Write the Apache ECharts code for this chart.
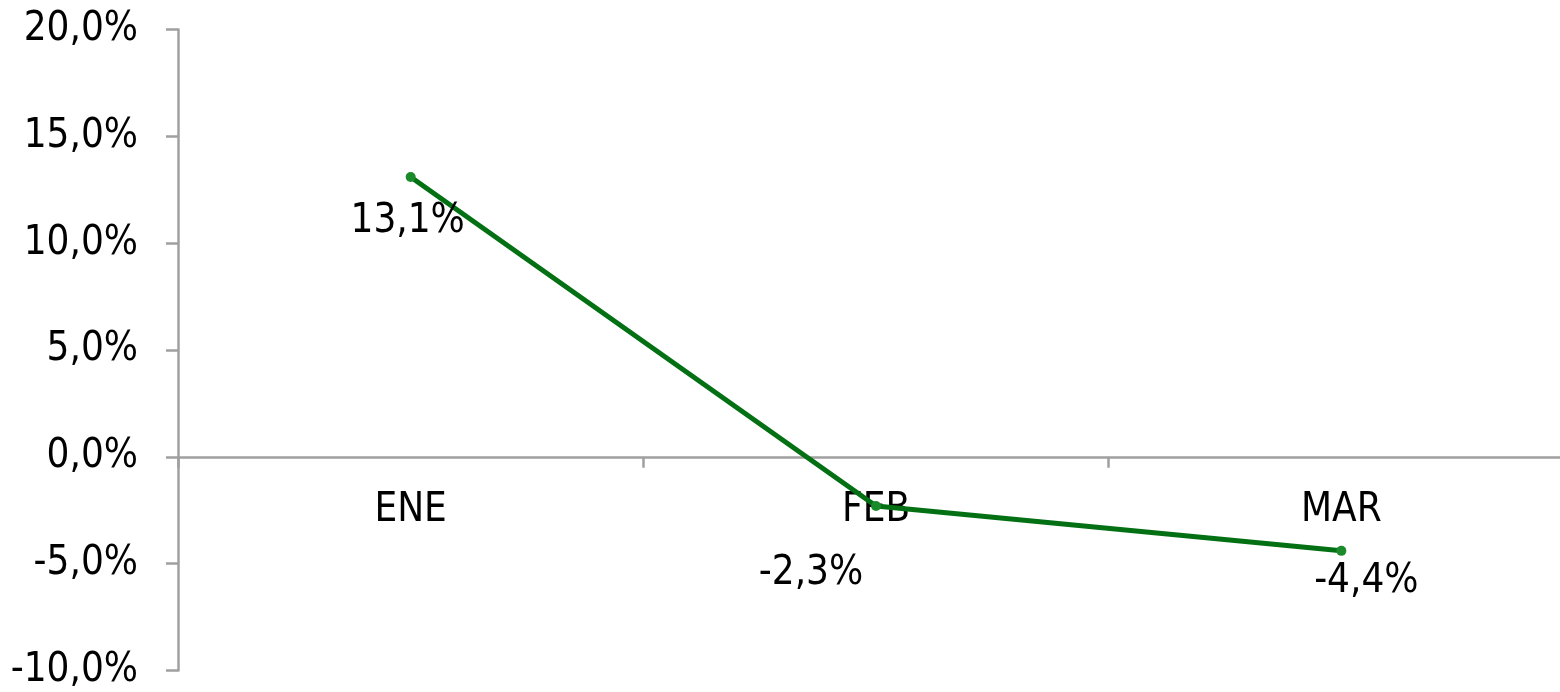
<!DOCTYPE html>
<html>
<head>
<meta charset="utf-8">
<script src="https://cdn.jsdelivr.net/npm/echarts@6/dist/echarts.min.js"></script>
<style>
html,body{margin:0;padding:0;background:#fff;}
#chart{width:1560px;height:692px;}
</style>
</head>
<body>
<div id="chart"></div>
<script>
const categories = ['ENE', 'FEB', 'MAR'];
const values = [13.1, -2.3, -4.4];
const yMin = -10, yMax = 20, yStep = 5;

const FONT = "'DejaVu Sans Condensed', 'DejaVu Sans', Verdana, sans-serif";
const FS = 40;
const labelOffsets = [[-3, 45], [-65, 68], [25, 31]];
const fmt = v => v.toFixed(1).replace('.', ',') + '%';

const chart = echarts.init(document.getElementById('chart'));
const option = {
  animation: false,
  backgroundColor: '#ffffff',
  grid: { left: 178, right: -14, top: 29.5, bottom: 21.5, containLabel: false, outerBoundsMode: 'none' },
  xAxis: {
    type: 'category',
    data: categories,
    boundaryGap: true,
    offset: 0,
    axisLine: { onZero: false, lineStyle: { color: '#a0a0a0', width: 2.5 } },
    axisTick: { show: true, length: 11, lineStyle: { color: '#a0a0a0', width: 2.5 } },
    axisLabel: { margin: 34, color: '#000', fontSize: FS, fontFamily: FONT },
    splitLine: { show: false }
  },
  yAxis: {
    type: 'value',
    min: yMin, max: yMax, interval: yStep,
    axisLine: { show: true, lineStyle: { color: '#a0a0a0', width: 2.5 } },
    axisTick: { show: true, length: 12, lineStyle: { color: '#a0a0a0', width: 2.5 } },
    axisLabel: { margin: 40, color: '#000', fontSize: FS, fontFamily: FONT, formatter: v => fmt(v) },
    splitLine: { show: false }
  },
  series: [{
    type: 'line',
    data: values.map((v, i) => ({
      value: v,
      label: { offset: labelOffsets[i] }
    })),
    symbol: 'circle',
    symbolSize: 10,
    lineStyle: { color: '#037013', width: 5 },
    itemStyle: { color: '#1a8a2a' },
    label: {
      show: true,
      position: 'inside',
      align: 'center',
      verticalAlign: 'middle',
      color: '#000',
      fontSize: FS,
      fontFamily: FONT,
      formatter: p => fmt(p.value)
    },
    z: 3
  }]
};
chart.setOption(option);
// move the category axis onto the zero line of the value scale
const zeroY = chart.convertToPixel({ yAxisIndex: 0 }, 0);
const bottomY = chart.convertToPixel({ yAxisIndex: 0 }, yMin);
chart.setOption({ xAxis: { offset: -(bottomY - zeroY) } });
</script>
</body>
</html>
